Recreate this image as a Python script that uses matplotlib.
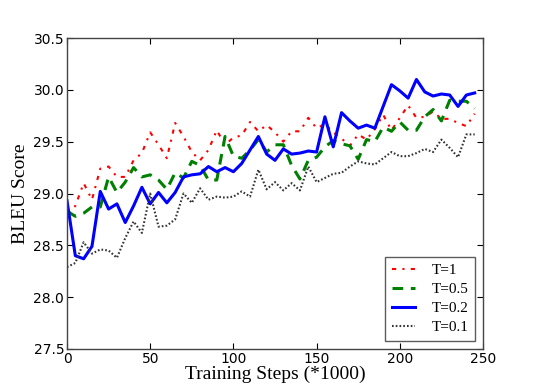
import matplotlib
matplotlib.use("Agg")
import matplotlib.pyplot as plt
import numpy as np

steps = list(range(0, 250, 5))

bleu_t1 = [28.80, 28.88, 29.10, 28.94, 29.24, 29.26, 29.16, 29.16, 29.32, 29.39,
           29.59, 29.47, 29.34, 29.68, 29.55, 29.40, 29.32, 29.42, 29.61, 29.47,
           29.54, 29.56, 29.69, 29.60, 29.66, 29.59, 29.50, 29.60, 29.60, 29.73,
           29.63, 29.67, 29.59, 29.53, 29.46, 29.57, 29.52, 29.62, 29.76, 29.61,
           29.73, 29.85, 29.73, 29.74, 29.79, 29.72, 29.72, 29.68, 29.65, 29.77]

bleu_t05 = [28.83, 28.78, 28.81, 28.87, 28.87, 29.16, 29.01, 29.11, 29.25, 29.16,
            29.18, 29.13, 29.04, 29.20, 29.15, 29.31, 29.27, 29.13, 29.13, 29.55,
            29.36, 29.34, 29.42, 29.52, 29.40, 29.47, 29.47, 29.27, 29.14, 29.32,
            29.35, 29.45, 29.51, 29.48, 29.46, 29.33, 29.52, 29.50, 29.64, 29.60,
            29.69, 29.61, 29.61, 29.74, 29.81, 29.70, 29.90, 29.89, 29.89, 29.82]

bleu_t02 = [28.93, 28.40, 28.37, 28.49, 29.02, 28.85, 28.90, 28.72, 28.88, 29.06,
            28.90, 29.01, 28.91, 29.01, 29.16, 29.18, 29.19, 29.26, 29.21, 29.25,
            29.21, 29.29, 29.42, 29.55, 29.38, 29.32, 29.43, 29.38, 29.39, 29.41,
            29.40, 29.74, 29.45, 29.78, 29.70, 29.63, 29.66, 29.63, 29.84, 30.05,
            29.99, 29.92, 30.10, 29.98, 29.94, 29.96, 29.95, 29.84, 29.95, 29.97]

bleu_t01 = [28.29, 28.33, 28.53, 28.42, 28.46, 28.45, 28.38, 28.57, 28.73, 28.62,
            29.00, 28.68, 28.69, 28.75, 29.00, 28.91, 29.05, 28.94, 28.97, 28.96,
            28.97, 29.02, 28.97, 29.23, 29.04, 29.11, 29.03, 29.10, 29.03, 29.26,
            29.11, 29.15, 29.19, 29.20, 29.26, 29.31, 29.29, 29.28, 29.34, 29.40,
            29.36, 29.36, 29.39, 29.43, 29.40, 29.52, 29.44, 29.35, 29.57, 29.57]

x_ticks = [0, 50, 100, 150, 200, 250]
y_ticks = [27.5, 28.0, 28.5, 29.0, 29.5, 30.0, 30.5]

fig = plt.figure(figsize=(5.38, 3.88), dpi=100)
ax = fig.add_axes([67 / 538, 1 - 349 / 388, 416 / 538, 311 / 388])

ax.plot(steps, bleu_t1, color="red", lw=1.5, dashes=(2, 3, 1, 3), label="T=1")
ax.plot(steps, bleu_t05, color="green", lw=2.2, dashes=(3.5, 2.5), label="T=0.5")
ax.plot(steps, bleu_t02, color="blue", lw=2.2, label="T=0.2")
ax.plot(steps, bleu_t01, color="#333333", lw=1.5, dashes=(0.8, 1), label="T=0.1")

ax.set_xlim(0, 250)
ax.set_ylim(27.5, 30.5)
ax.set_xticks(x_ticks)
ax.set_yticks(y_ticks)
ax.set_yticklabels([f"{v:.1f}" for v in y_ticks])
ax.tick_params(direction="in", top=True, right=True, labelsize=10, length=4, pad=2)
for s in ax.spines.values():
    s.set_linewidth(1.0)
    s.set_color("#444444")

serif = "Liberation Serif"
ax.set_xlabel("Training Steps (*1000)", family=serif, fontsize=14, labelpad=0)
ax.set_ylabel("BLEU Score", family=serif, fontsize=14, labelpad=3)

leg = ax.legend(loc="lower right", prop={"family": serif, "size": 11},
                fancybox=False, handlelength=1.5, labelspacing=0.35,
                borderaxespad=0.5, handletextpad=1.1, borderpad=0.45)
leg.get_frame().set_edgecolor("#333333")
leg.get_frame().set_linewidth(1.0)

fig.savefig("out.png", dpi=100)
